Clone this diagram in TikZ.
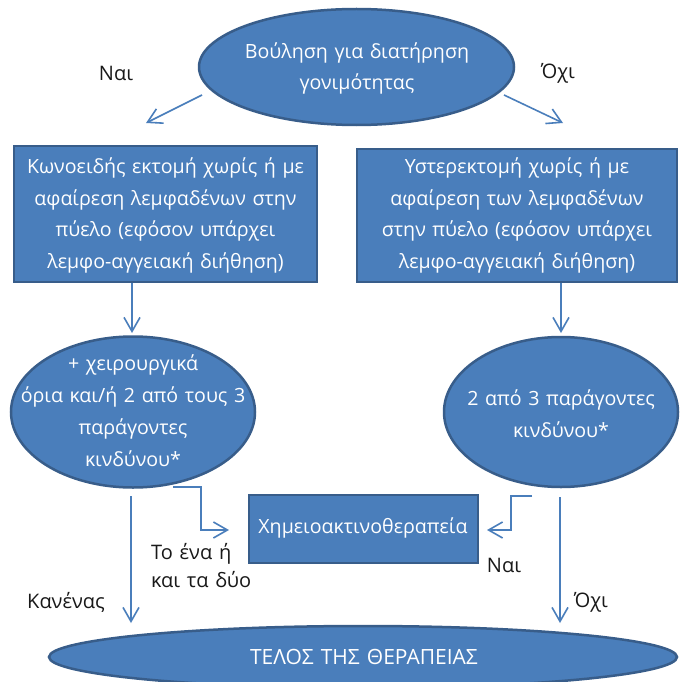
\documentclass[tikz,border=0pt]{standalone}
\usepackage{fontspec}
\setmainfont{Open Sans}[WordSpace=1.3]
\usetikzlibrary{arrows.meta,shapes.geometric}
\definecolor{fillblue}{RGB}{74,126,187}
\definecolor{edgeblue}{RGB}{56,93,138}
\definecolor{arrowblue}{RGB}{74,126,187}
\definecolor{labelgray}{RGB}{25,25,25}
\begin{document}
\begin{tikzpicture}[x=1pt,y=-1pt,
  shapebox/.style={draw=edgeblue, line width=2.5pt, fill=fillblue, inner sep=0pt, rectangle},
  shapeell/.style={draw=edgeblue, line width=2.5pt, fill=fillblue, inner sep=0pt, ellipse},
  intext/.style={text=white, align=center, font=\fontsize{19.6}{31.8}\selectfont, inner sep=0pt},
  lbl/.style={text=labelgray, align=left, font=\fontsize{20}{28}\selectfont, inner sep=0pt},
  arr/.style={draw=arrowblue, line width=1.6pt, -{Straight Barb[length=14pt,width=16pt,line width=1.6pt]}}]
\useasboundingbox (0,0) rectangle (681,682);
\fill[white] (0,0) rectangle (681,682);

% shapes
\node[shapeell, minimum width=315pt, minimum height=116pt] (top) at (356.5,67) {};
\node[intext] at (357,68.5) {Βούληση για διατήρηση\\γονιμότητας};

\node[shapebox, minimum width=303pt, minimum height=136pt] (lbox) at (165.5,214) {};
\node[intext] at (165.5,215.5) {Κωνοειδής εκτομή χωρίς ή με\\αφαίρεση λεμφαδένων στην\\πύελο (εφόσον υπάρχει\\λεμφο-αγγειακή διήθηση)};

\node[shapebox, minimum width=320pt, minimum height=133pt] (rbox) at (517,215.5) {};
\node[intext] at (517,215.5) {Υστερεκτομή χωρίς ή με\\αφαίρεση των λεμφαδένων\\στην πύελο (εφόσον υπάρχει\\λεμφο-αγγειακή διήθηση)};

\node[shapeell, minimum width=244pt, minimum height=151pt] (lell) at (133,412) {};
\node[intext] at (133,410.5) {+ χειρουργικά\\όρια και/ή 2 από τους 3\\παράγοντες\\κινδύνου*};

\node[shapeell, minimum width=234pt, minimum height=150pt] (rell) at (561,412) {};
\node[intext] at (561,414) {2 από 3 παράγοντες\\κινδύνου*};

\node[shapebox, minimum width=229pt, minimum height=68pt] (chemo) at (363.5,529) {};
\node[intext] at (363,528) {Χημειοακτινοθεραπεία};

\node[shapeell, minimum width=628pt, minimum height=62pt] (end) at (363,657) {};
\node[intext, font=\fontsize{21}{28}\selectfont] at (364,657) {ΤΕΛΟΣ ΤΗΣ ΘΕΡΑΠΕΙΑΣ};

% labels
\node[lbl] (naiTop) at (116,73) {Ναι};
\node[lbl] (ochiTop) at (558,73) {Όχι};
\node[lbl, anchor=west] (both) at (151,566) {Το ένα ή\\και τα δύο};
\node[lbl] (naiMid) at (504,565) {Ναι};
\node[lbl] (none) at (66,602) {Κανένας};
\node[lbl] (ochiBot) at (591,602) {Όχι};

% connector end points
\coordinate (t1) at (202,95);  \coordinate (t2) at (146,123);
\coordinate (t3) at (504,95);  \coordinate (t4) at (563,123);
\coordinate (b1) at (132,283); \coordinate (b2) at (132,333);
\coordinate (b3) at (561,283); \coordinate (b4) at (561,333);
\coordinate (e1) at (173,487); \coordinate (e2) at (201,487);
\coordinate (e3) at (201,530); \coordinate (e4) at (229,530);
\coordinate (f1) at (532,496); \coordinate (f2) at (511,496);
\coordinate (f3) at (511,530); \coordinate (f4) at (487,530);
\coordinate (d1) at (131,496); \coordinate (d2) at (131,623);
\coordinate (d3) at (560,497); \coordinate (d4) at (560,623);

\draw[arr] (t1) -- (t2);
\draw[arr] (t3) -- (t4);
\draw[arr] (b1) -- (b2);
\draw[arr] (b3) -- (b4);
\draw[arr] (e1) -- (e2) -- (e3) -- (e4);
\draw[arr] (f1) -- (f2) -- (f3) -- (f4);
\draw[arr] (d1) -- (d2);
\draw[arr] (d3) -- (d4);
\end{tikzpicture}
\end{document}
